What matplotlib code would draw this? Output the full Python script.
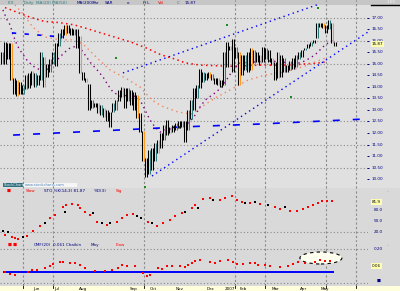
import matplotlib.pyplot as plt
from matplotlib.patches import Rectangle, Ellipse

W, H = 400, 291

# ---------------- price bars (one per session) ----------------
highs = [15.5, 15.95, 15.9, 15.9, 14.4, 14.3, 14.2, 14.1, 14.5, 14.6,
         14.7, 14.6, 14.5, 15.5, 15.3, 15.0, 15.2, 15.5, 15.9, 16.35,
         16.5, 16.7, 16.7, 16.55, 16.5, 16.5, 16.2, 14.65, 14.4, 14.15,
         13.45, 13.3, 13.3, 13.2, 13.1, 13.0, 12.9, 13.3, 13.45, 13.85,
         14.0, 13.95, 13.95, 13.85, 13.8, 13.65, 12.85, 12.1, 10.9, 11.25,
         11.35, 11.55, 11.7, 12.0, 12.35, 12.55, 12.25, 12.35, 12.45, 12.5,
         12.5, 12.5, 13.0, 13.45, 13.95, 14.1, 14.8, 14.65, 14.6, 14.65,
         14.55, 14.4, 14.4, 14.3, 15.5, 15.95, 15.8, 16.1, 15.75, 15.5,
         15.4, 15.4, 15.5, 15.7, 15.6, 15.5, 15.4, 15.75, 15.7, 15.6,
         15.25, 15.1, 15.5, 15.4, 15.25, 14.95, 15.15, 15.25, 15.4, 15.5,
         15.6, 15.7, 15.85, 15.95, 16.05, 16.8, 16.8, 16.8, 16.7, 16.9,
         16.8, 15.95]
lows = [15.0, 15.0, 15.2, 14.3, 13.7, 13.6, 13.7, 13.7, 13.9, 13.95,
        14.1, 14.0, 14.1, 14.3, 14.0, 14.45, 14.65, 15.0, 14.9, 15.8,
        16.15, 16.25, 16.35, 16.25, 16.25, 15.7, 14.6, 14.3, 14.2, 13.0,
        13.1, 13.15, 12.85, 12.8, 12.7, 12.5, 12.25, 12.9, 13.0, 13.4,
        13.55, 13.1, 13.4, 13.2, 13.0, 12.65, 12.05, 10.8, 10.1, 10.2,
        10.4, 10.8, 11.15, 11.35, 11.7, 11.9, 12.0, 12.05, 12.15, 12.2,
        12.25, 11.6, 12.15, 12.6, 13.0, 13.5, 13.95, 14.2, 14.3, 14.4,
        14.3, 14.15, 14.1, 14.0, 14.1, 14.85, 15.6, 14.65, 15.25, 14.1,
        14.5, 14.75, 14.65, 14.75, 15.05, 15.1, 14.95, 15.1, 15.2, 15.1,
        14.95, 14.3, 14.4, 14.45, 14.65, 14.65, 14.75, 14.8, 14.85, 15.2,
        15.3, 15.6, 15.7, 15.8, 15.9, 16.15, 16.6, 16.55, 16.35, 16.5,
        15.9, 15.8]
bar_codes = ("tkkokokttk" "otktokttkt" "kokktkokok" "tkotokkttk" "oktkkokokt"
             "ktoktkoktk" "tkttktktko" "tkoktkokto" "ktkotkoktk" "okoktktktt"
             "ktktktkokt" "ok")
code_colors = {'k': '#000000', 'o': '#ff9a1e', 't': '#2f7f7f'}

# ---------------- overlays on price ----------------
ma_red_x = [1, 3, 6, 9, 14, 19, 24, 28, 33, 38, 43, 48, 53, 58, 61, 66, 76, 86, 96, 106, 108]
ma_red_y = [17.45, 17.35, 17.2, 17.05, 16.85, 16.8, 16.7, 16.55, 16.35, 16.15, 15.95,
            15.7, 15.4, 15.2, 15.05, 14.95, 14.9, 14.95, 14.95, 15.05, 15.1]

ma_salmon_x = [4.3, 7.3, 10.3, 14.3, 19.3, 23.3, 27, 31.7, 36, 41, 46, 50, 53.3, 58.7,
               63.3, 66, 71, 76, 82, 87.7, 94.3, 101, 106, 108.7]
ma_salmon_y = [17.57, 17.13, 16.6, 16.17, 16.05, 16.05, 15.87, 15.26, 14.74, 14.4, 14.0,
               13.43, 13.17, 12.91, 12.83, 13.09, 13.52, 13.87, 14.3, 14.52, 14.65, 14.91,
               15.17, 15.3]

ma_purple_x = [0.3, 1.7, 2.7, 3.7, 5, 6, 8.3, 10.3, 12.7, 15, 17.7, 19.3, 21, 22.7, 25, 26,
               27.7, 29.3, 31.7, 33.7, 35.3, 37, 39.3, 43.7, 46, 47.7, 49.3, 51, 52.7, 54.3,
               57.7, 60, 62, 63.7, 65, 66, 67.7, 71, 73.3, 77, 79.3, 84.3, 89.3, 93.7, 97,
               101, 104.3, 107.7, 110.3]
ma_purple_y = [17.35, 16.91, 16.7, 16.26, 15.83, 15.6, 15.17, 14.91, 14.74, 14.74, 15.09,
               15.3, 15.52, 15.7, 15.78, 15.7, 15.39, 15.09, 14.74, 14.43, 14.09, 13.78,
               13.61, 13.65, 13.43, 13.0, 12.57, 12.26, 12.04, 12.13, 12.22, 12.22, 12.43,
               12.65, 12.91, 13.13, 13.43, 13.74, 14.0, 14.74, 15.04, 15.09, 15.13, 15.09,
               14.96, 15.13, 15.39, 15.83, 16.04]

ma_blue_x = [3.7, 32.7, 59.3, 86, 121.3]
ma_blue_y = [11.91, 12.09, 12.26, 12.39, 12.61]
old_blue_x = [3.3, 20.3]
old_blue_y = [16.35, 16.17]

upper_trend_x = [40.3, 105]
upper_trend_y = [14.61, 17.57]
lower_trend_x = [50, 122]
lower_trend_y = [10.13, 16.39]

signal_x = [38, 75, 105.3, 96.3, 47.7]
signal_y = [15.26, 16.7, 17.43, 13.57, 9.66]

price_levels = [17.0, 16.5, 16.0, 15.5, 15.0, 14.5, 14.0, 13.5, 13.0, 12.5, 12.0,
                11.5, 11.0, 10.5, 10.0]
price_grid = [17.0, 16.0, 15.0, 13.5, 12.5, 11.5, 10.5]
date_lines = [7, 17, 47.3, 77.7, 87.7, 108, 118]

# ---------------- stochastic panel ----------------
stoch_k_x = [1, 3.3, 4.3, 5.3, 8.3, 10.3, 12.7, 16, 17.7, 20.3, 21.3, 23.3, 25.3, 26, 27.7,
             29.3, 31.7, 35, 38.3, 40, 41.7, 43.7, 46.3, 48.7, 51.7, 53.7, 56, 57.7, 60,
             63.3, 64.3, 67, 69.3, 72.7, 74.3, 76.7, 78.3, 80, 82.7, 86, 91, 92.7, 96, 98.3,
             100.3, 102, 103.7, 105.3, 106.7, 108.3, 110]
stoch_k_y = [14, 10, 8, 6, 12, 22, 32, 48, 54, 70, 74, 76, 74, 68, 60, 54, 40, 34, 40, 48,
             54, 56, 48, 40, 32, 38, 44, 52, 58, 68, 74, 86, 88, 84, 88, 92, 84, 80, 78, 76,
             70, 66, 62, 62, 66, 70, 74, 78, 82, 82, 82]
stoch_d_x = [0.3, 2, 7, 14.3, 21, 30.3, 33.3, 36, 45, 46.3, 50, 61, 65.3, 70.3, 81, 84.3,
             88.7, 94.3]
stoch_d_y = [22, 20, 10, 38, 60, 58, 38, 38, 52, 48, 38, 60, 68, 84, 78, 80, 74, 70]

# ---------------- lower oscillator panel ----------------
osc_x = [1, 2.7, 4.3, 8.7, 10, 11.7, 14.3, 16, 17, 19.3, 20.3, 22.7, 24.3, 26, 27.7, 31,
         34.3, 36.7, 38.7, 40, 41.7, 44.3, 47, 48.3, 49.3, 52, 53.3, 55, 56.7, 59.3, 61,
         62, 63.3, 64.3, 66, 69.3, 71, 72.7, 75.3, 77, 78.3, 80.3, 82.7, 84.3, 85.3, 87.7,
         89.3, 92.7, 95.3, 97, 98.7, 101, 104.3, 106, 107.7, 109.3]
osc_y = [0, -2, -3, 0, 2, 2, 4, 6, 8, 10, 10, 9, 9, 7, 4, 1, 1, 2, 4, 7, 6, 6, -1, -4, -3,
         4, 3, 6, 6, 6, 5, 7, 9, 11, 12, 10, 9, 11, 12, 10, 8, 8, 9, 9, 7, 7, 6, 5, 6, 8,
         10, 9, 10, 12, 11, 11]

x_labels = ['Jun', 'Jul', 'Aug', 'Sep', 'Oct', 'Nov', 'Dec', '2007', 'Feb', 'Mar', 'Apr', 'May']
x_label_pos = [10.3, 17.3, 25.7, 42.7, 49.3, 58, 68.3, 74.3, 79.3, 90, 99.3, 106.3]

BG = '#e0e0e0'
LOW_BG = '#d9d9d9'
NAVY = '#000080'
GRID = '#8a8a8a'

fig = plt.figure(figsize=(W / 100, H / 100), dpi=100)
fig.patch.set_facecolor(BG)
bg = fig.add_axes([0, 0, 1, 1])
bg.set_xlim(0, W)
bg.set_ylim(H, 0)
bg.axis('off')
for y0, y1, c in [(0, 5, '#c6c6c6'), (5, 188, BG), (188, 286, LOW_BG), (286, 291, '#ffffdc')]:
    bg.add_patch(Rectangle((0, y0), W, y1 - y0, color=c, lw=0, zorder=0))


def panel(top, bottom, ylim):
    ax = fig.add_axes([0, 1 - bottom / H, 368 / W, (bottom - top) / H])
    ax.set_facecolor('none')
    ax.set_xlim(-2 / 3, 122)
    ax.set_ylim(*ylim)
    ax.axis('off')
    for d in date_lines:
        ax.axvline(d, color=GRID, lw=0.8, ls=(0, (2, 2)), zorder=1)
    return ax


# ---------------- main price panel ----------------
ax = panel(0, 188, (9.61, 17.78))
for g in price_grid:
    ax.axhline(g, color=GRID, lw=0.8, ls=(0, (1, 2)), zorder=1)

ax.plot(ma_red_x, ma_red_y, color='#ff0000', lw=1.1, ls=(0, (1, 2.2)), zorder=3)
ax.plot(ma_salmon_x, ma_salmon_y, color='#f08462', lw=1.0, ls=(0, (1, 2.6)), zorder=3)
ax.plot(ma_purple_x, ma_purple_y, color='#800080', lw=1.0, ls=(0, (1, 2.6)), zorder=3)
ax.plot(ma_blue_x, ma_blue_y, color='#0000ff', lw=1.2, ls=(0, (4.2, 7.8)), zorder=3)
ax.plot(old_blue_x, old_blue_y, color='#0000ff', lw=1.2, ls=(0, (2.6, 5)), zorder=3)
ax.plot(upper_trend_x, upper_trend_y, color='#0000ff', lw=1.0, ls=(0, (1, 2.5)), zorder=3)
ax.plot(lower_trend_x, lower_trend_y, color='#0000ff', lw=1.0, ls=(0, (1, 2.5)), zorder=3)
ax.scatter(signal_x, signal_y, marker='s', s=1.2, color='#1a8c1a', lw=0, zorder=4)

for i, (hi, lo) in enumerate(zip(highs, lows)):
    ax.vlines(i - 0.17, lo, hi, color='#000000', lw=0.75, zorder=4)
    ax.vlines(i + 0.17, lo, hi, color=code_colors[bar_codes[i]], lw=0.75, zorder=4)

for p in price_levels:
    ax.hlines(p, 121.7, 122.4, color=NAVY, lw=0.7, clip_on=False)
    ax.text(123.2, p, f'{p:.2f}', fontsize=3, color=NAVY, va='center', ha='left',
            clip_on=False)
ax.text(123.2, 15.87, '15.87', fontsize=3, color='#000000', va='center', ha='left',
        bbox=dict(boxstyle='square,pad=0.25', fc='#ffffb0', ec='none'), zorder=6)

# ---------------- stochastic panel ----------------
ax2 = panel(188, 242, (0, 108))
ax2.axhline(20, color=GRID, lw=0.8, ls=(0, (1, 2)), zorder=1)
ax2.scatter(stoch_k_x, stoch_k_y, marker='s', s=1.5, color='#ff0000', lw=0, zorder=3)
ax2.scatter(stoch_d_x, stoch_d_y, marker='s', s=1.5, color='#000000', lw=0, zorder=3)
for v, t in [(64, '80.0'), (42, '50.0'), (20, '20.0')]:
    ax2.text(124, v, t, fontsize=3, color=NAVY, va='center', ha='left', clip_on=False)
ax2.text(123.2, 80, '81.9', fontsize=3, color='#000000', va='center', ha='left',
         bbox=dict(boxstyle='square,pad=0.25', fc='#ffffb0', ec='none'))
ax2.text(1.5, 102, '\u25a0', fontsize=3, color='#ff0000', va='center')
ax2.text(8, 102, 'Slow', fontsize=3, color='#ff0000', va='center')
ax2.text(14, 102, 'STO %K(14,3) 81.87', fontsize=3, color=NAVY, va='center')
ax2.text(30.5, 102, '%D(3)', fontsize=3, color=NAVY, va='center')
ax2.text(38, 102, 'Sig', fontsize=3, color='#ff0000', va='center')

# ---------------- lower oscillator panel ----------------
ax3 = panel(242, 286, (-14, 30))
ax3.axhline(23, color=GRID, lw=0.8, ls=(0, (1, 2)), zorder=1)
ax3.axhline(-11, color=GRID, lw=0.8, ls=(0, (1, 2)), zorder=1)
ax3.hlines(0, 0.3, 110.7, color='#0000ff', lw=1.4, zorder=2)
ax3.add_patch(Ellipse((106.3, 14), 14, 12, fc='#fffff0', ec='#000000', lw=0.8,
                      ls=(0, (3, 3)), zorder=2))
ax3.scatter(osc_x, osc_y, marker='s', s=1.5, color='#ff0000', lw=0, zorder=3)
ax3.text(124, 23, '0.20', fontsize=3, color=NAVY, va='center', ha='left', clip_on=False)
ax3.text(123.2, 6, '0.06', fontsize=3, color='#000000', va='center', ha='left',
         bbox=dict(boxstyle='square,pad=0.25', fc='#ffffb0', ec='none'))
ax3.text(125, -9, '\u25a0', fontsize=3, color=NAVY, va='center', ha='left', clip_on=False)
ax3.text(2, 27, '\u25a0 \u25a0', fontsize=3, color='#ff0000', va='center')
ax3.text(10.5, 27, 'CMF(20)', fontsize=3, color=NAVY, va='center')
ax3.text(17, 27, '0.061 Chaikin', fontsize=3, color=NAVY, va='center')
ax3.text(29.5, 27, 'Mny', fontsize=3, color=NAVY, va='center')
ax3.text(38, 27, 'Flow', fontsize=3, color='#ff0000', va='center')

# ---------------- frame texts ----------------
top_items = [(8, '#2f7f7f', 'ITX'), (24, '#2f7f7f', 'Daily'), (36, '#2f7f7f', 'MA(20) MA(50)'),
             (77, NAVY, 'MA(200)'), (93, NAVY, 'Par'), (105, NAVY, 'SAR'),
             (127, NAVY, 'o'), (143, NAVY, 'H L'), (158, '#ff0000', 'Vol'),
             (177, '#2f7f7f', 'C'), (185, NAVY, '15.87')]
for x, c, t in top_items:
    bg.text(x, 2.6, t, fontsize=3, color=c, va='center', ha='left')
bg.plot([371, 400], [5, 5], color='#000000', lw=1.0)
bg.text(387, 2.3, '1.05', fontsize=3, color='#f4f4f4', va='center', ha='left')

bg.add_patch(Rectangle((3, 183), 20, 4, color='#2f6f7f', lw=0, zorder=2))
bg.add_patch(Rectangle((24, 183), 53, 4, color='#f6f6f6', lw=0, zorder=2))
bg.text(4, 185, 'StockCharts', fontsize=2.6, color='#e8f0f0', va='center', zorder=3)
bg.text(25, 185, 'www.stockcharts.com', fontsize=2.6, color='#5080b0', va='center', zorder=3)
bg.text(387, 191, '--', fontsize=3, color='#9a9a9a', va='center')
bg.text(387, 245, '--', fontsize=3, color='#9a9a9a', va='center')

for d in date_lines:
    px = 2 + 3 * d
    bg.plot([px, px], [284, 288], color='#000000', lw=0.6)
for lab, pos in zip(x_labels, x_label_pos):
    bg.text(2 + 3 * pos, 288.7, lab, fontsize=3, color='#000000', va='center', ha='left')

fig.savefig('out.png', dpi=100, facecolor=fig.get_facecolor())
